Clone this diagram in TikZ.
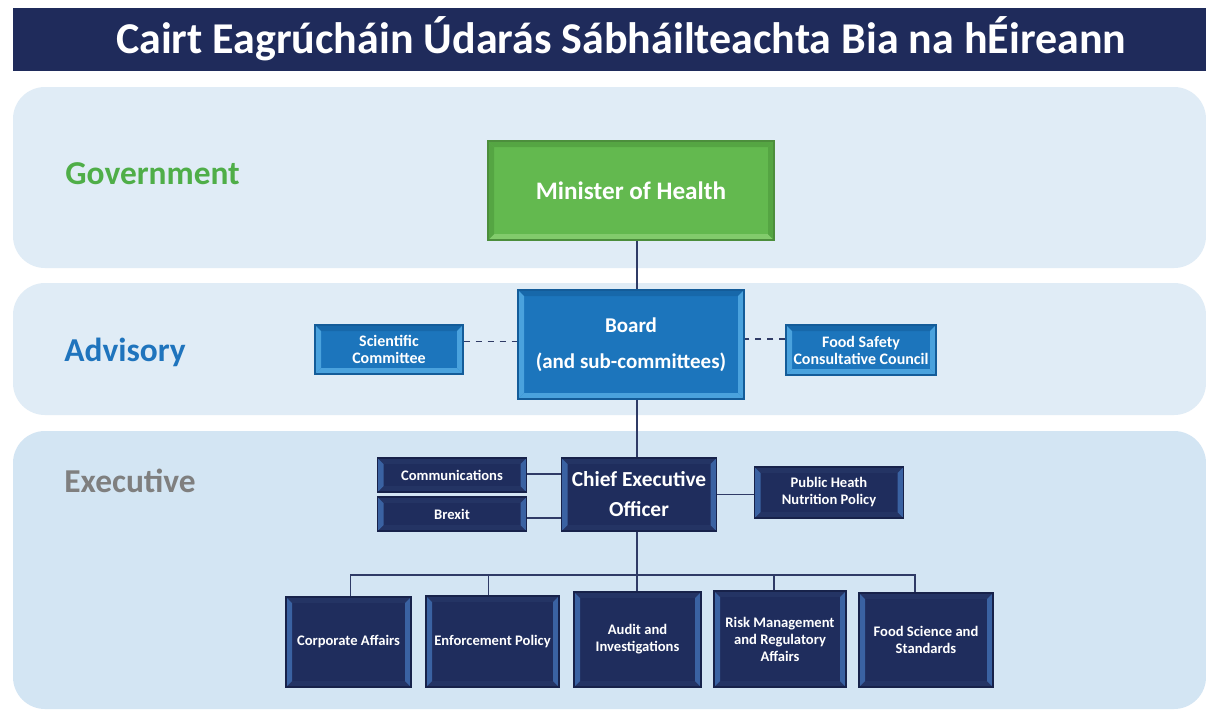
\documentclass[tikz,border=0pt]{standalone}
\usepackage{fontspec}
\setmainfont{Carlito}
\usetikzlibrary{calc}

\definecolor{titlenavy}{HTML}{1F2B5B}
\definecolor{bandlight}{HTML}{E0ECF6}
\definecolor{bandexec}{HTML}{D3E5F3}
\definecolor{govgreen}{HTML}{4FAE48}
\definecolor{advblue}{HTML}{1F74BD}
\definecolor{execgray}{HTML}{7F7F7F}
\definecolor{linenavy}{HTML}{2F3B66}
\definecolor{navy}{HTML}{1F2D5D}
\definecolor{navyedge}{HTML}{17224A}
\definecolor{navyside}{HTML}{3A62A2}
\definecolor{navytop}{HTML}{243464}
\definecolor{green}{HTML}{63B94F}
\definecolor{greenedge}{HTML}{4C8E3C}
\definecolor{greenlight}{HTML}{82CB6C}
\definecolor{greendark}{HTML}{55A543}
\definecolor{blue}{HTML}{1C75BC}
\definecolor{blueedge}{HTML}{145C99}
\definecolor{bluelight}{HTML}{4AA2DD}
\definecolor{bluedark}{HTML}{1768AA}

\tikzset{
	bevel/.style n args={4}{path picture={
		\path (path picture bounding box.south west) coordinate (bsw)
			(path picture bounding box.north east) coordinate (bne)
			(path picture bounding box.north west) coordinate (bnw)
			(path picture bounding box.south east) coordinate (bse);
		\fill[#1] (bnw) -- (bne) -- ([shift={(-3pt,-3pt)}]bne) -- ([shift={(3pt,-3pt)}]bnw) -- cycle;
		\fill[#2] (bsw) -- (bse) -- ([shift={(-3pt,3pt)}]bse) -- ([shift={(3pt,3pt)}]bsw) -- cycle;
		\fill[#3] (bsw) -- (bnw) -- ([shift={(3pt,-3pt)}]bnw) -- ([shift={(3pt,3pt)}]bsw) -- cycle;
		\fill[#4] (bse) -- (bne) -- ([shift={(-3pt,-3pt)}]bne) -- ([shift={(-3pt,3pt)}]bse) -- cycle;
	}},
	band/.style={rounded corners=16pt},
	lvl/.style={anchor=west, inner sep=0pt, font=\bfseries\fontsize{16.7}{19}\selectfont},
	box/.style={text=white, align=center, inner sep=1pt, line width=0.6pt},
	greenbox/.style={box, draw=greenedge, fill=green, bevel={greendark}{greenlight}{greendark}{greendark},
		font=\bfseries\fontsize{12.6}{15}\selectfont},
	bluebox/.style={box, draw=blueedge, fill=blue, bevel={bluedark}{bluelight}{bluelight}{bluelight},
		font=\bfseries\fontsize{8}{8.5}\selectfont},
	navybox/.style={box, draw=navyedge, fill=navy, bevel={navytop}{navytop}{navyside}{navyside},
		font=\bfseries\fontsize{7.3}{8.5}\selectfont},
	link/.style={draw=linenavy, line width=0.6pt},
}

\begin{document}
\begin{tikzpicture}[x=0.5pt, y=-0.5pt]
	\useasboundingbox (0,0) rectangle (1206,709);
	\fill[white] (0,0) rectangle (1206,709);

	% title and bands
	\fill[titlenavy] (13,8) rectangle (1206,71);
	\node[text=white, font=\bfseries\fontsize{22}{26}\selectfont] (title) at (621,39) {Cairt Eagrúcháin Údarás Sábháilteachta Bia na hÉireann};
	\fill[band, bandlight] (13,87) rectangle (1206,268);
	\fill[band, bandlight] (13,283) rectangle (1206,415);
	\fill[band, bandexec] (13,431) rectangle (1206,709);

	\node[lvl, text=govgreen] (gov) at (65,174) {Government};
	\node[lvl, text=advblue] (adv) at (64,352) {Advisory};
	\node[lvl, text=execgray] (exe) at (64,481) {Executive};

	% boxes
	\node[greenbox, minimum width=143pt, minimum height=49.5pt] (minister) at (631,190.5) {Minister of Health};
	\node[bluebox, minimum width=113pt, minimum height=54.5pt, font=\bfseries\fontsize{10.5}{18}\selectfont] (board) at (631,344.5) {Board\\(and sub-committees)};
	\node[bluebox, minimum width=74pt, minimum height=24.5pt] (sci) at (389,349.5) {Scientific\\Committee};
	\node[bluebox, minimum width=75pt, minimum height=25pt] (fscc) at (861,350) {Food Safety\\Consultative Council};

	\node[navybox, minimum width=77.5pt, minimum height=36.5pt, font=\bfseries\fontsize{10.7}{15}\selectfont] (ceo) at (639,494.5) {Chief Executive\\Officer};
	\node[navybox, minimum width=74.5pt, minimum height=17pt] (comms) at (452,475) {Communications};
	\node[navybox, minimum width=74.5pt, minimum height=17pt] (brexit) at (452,514) {Brexit};
	\node[navybox, minimum width=74.5pt, minimum height=25.5pt] (phn) at (829,492.5) {Public Heath\\Nutrition Policy};

	\node[navybox, minimum width=62.5pt, minimum height=45pt] (corp) at (348.5,642) {Corporate Affairs};
	\node[navybox, minimum width=66.5pt, minimum height=45.5pt] (enf) at (492.5,641.5) {Enforcement Policy};
	\node[navybox, minimum width=63.5pt, minimum height=47.5pt] (audit) at (637.5,639.5) {Audit and\\Investigations};
	\node[navybox, minimum width=66pt, minimum height=48pt] (risk) at (780,639) {Risk Management\\and Regulatory\\Affairs};
	\node[navybox, minimum width=67pt, minimum height=47pt] (fsci) at (926,640) {Food Science and\\Standards};

	% connectors
	\coordinate (bus) at (637,575);
	\path[link] (minister.south -| bus) -- (board.north -| bus);
	\path[link] (board.south -| bus) -- (ceo.north -| bus);
	\path[link, dashed] ([yshift=4pt]sci.east) -- ([yshift=4pt]sci.east -| board.west);
	\path[link, dashed] ([yshift=5.5pt]fscc.west) -- ([yshift=5.5pt]fscc.west -| board.east);
	\path[link] ([yshift=0.5pt]comms.east) -- ([yshift=0.5pt]comms.east -| ceo.west);
	\path[link] ([yshift=-2pt]brexit.east) -- ([yshift=-2pt]brexit.east -| ceo.west);
	\path[link] (ceo.east) -- (ceo.east -| phn.west);
	\path[link] (ceo.south -| bus) -- (audit.north -| bus);
	\path[link] ([xshift=1pt]corp.north) |- (bus) -| ([xshift=-5.5pt]fsci.north);
	\path[link] ([xshift=-2pt]enf.north) -- ([xshift=-2pt]enf.north |- bus);
	\path[link] ([xshift=-3pt]risk.north) -- ([xshift=-3pt]risk.north |- bus);
\end{tikzpicture}
\end{document}
